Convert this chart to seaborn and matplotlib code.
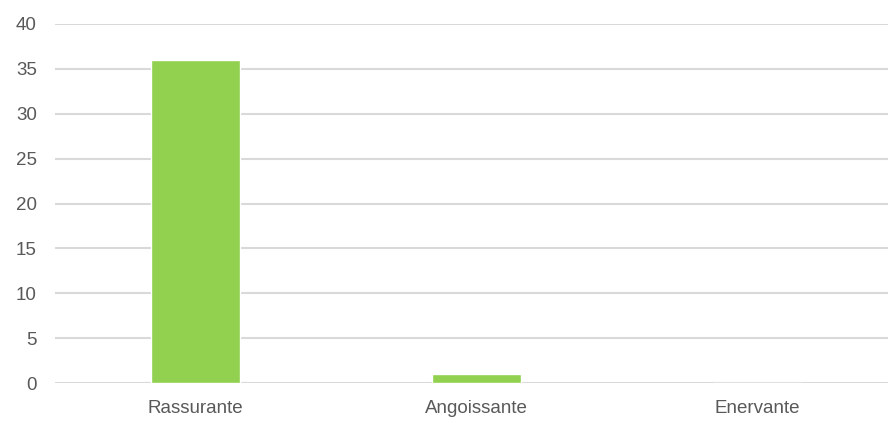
import matplotlib
matplotlib.use("Agg")
import matplotlib.pyplot as plt
import seaborn as sns
import pandas as pd

categories = ["Rassurante", "Angoissante", "Enervante"]
values = [36, 1, 0]

sns.set_theme(style="white")
plt.rcParams['font.family'] = ['Liberation Sans', 'DejaVu Sans']

df = pd.DataFrame({"cat": categories, "val": values})

fig = plt.figure(figsize=(8.88, 4.24), dpi=100)
ax = fig.add_axes([55/888, 41/424, 843/888, 359/424])
sns.barplot(data=df, x="cat", y="val", color="#92D050", width=0.315, saturation=1, ax=ax)

ax.set_ylim(0, 40)
ax.set_yticks(range(0, 41, 5))
ax.set_xlim(-0.5, 2.5)
ax.yaxis.grid(True, color="#D9D9D9", linewidth=1.5)
ax.set_axisbelow(True)
for s in ax.spines.values():
    s.set_visible(False)
ax.set_xlabel("")
ax.set_ylabel("")
ax.tick_params(axis="both", length=0, labelsize=13.5, labelcolor="#595959")
ax.tick_params(axis="y", pad=13)
ax.tick_params(axis="x", pad=12)
for lbl in ax.get_yticklabels():
    lbl.set_horizontalalignment("right")

fig.savefig("out.png", dpi=100)
